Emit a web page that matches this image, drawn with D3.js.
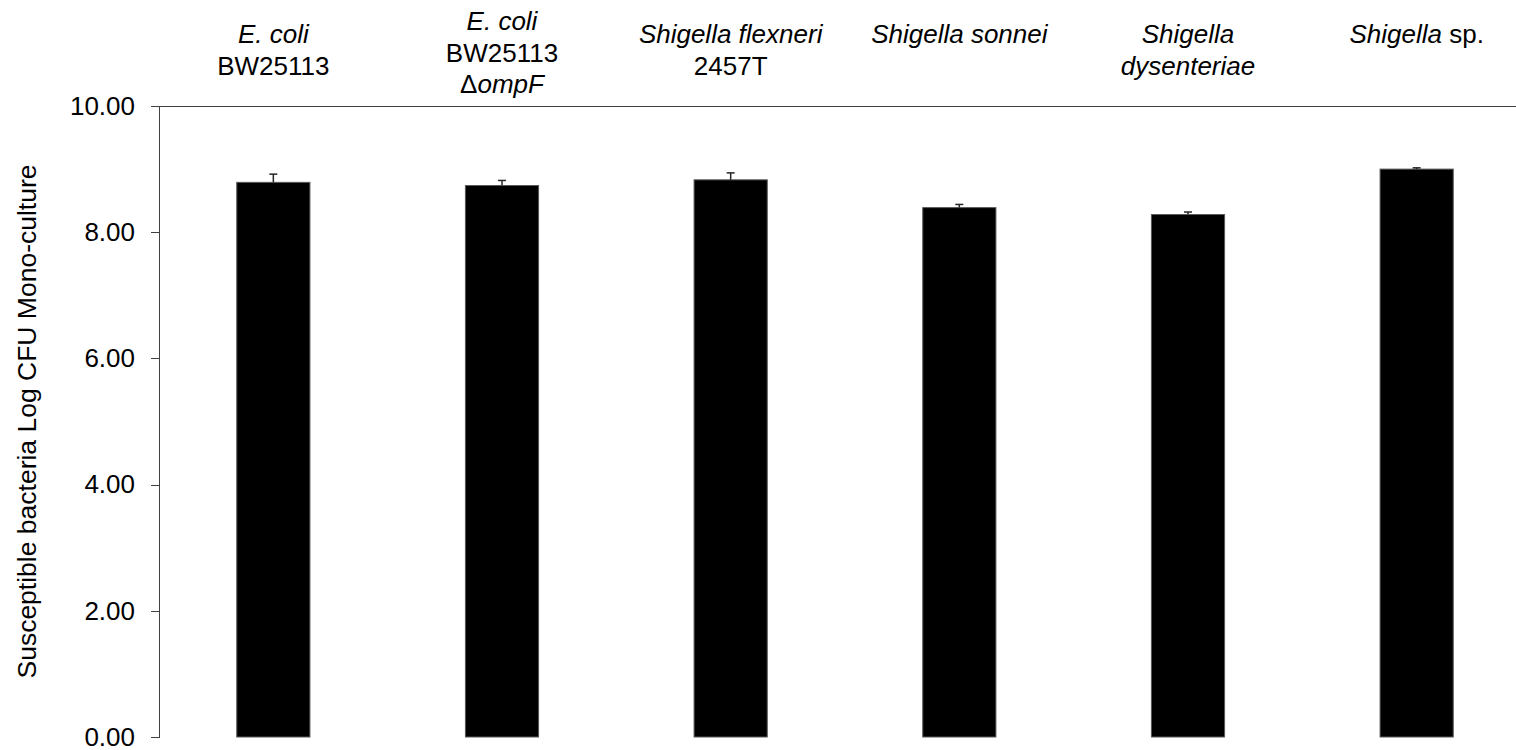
<!DOCTYPE html>
<html>
<head>
<meta charset="utf-8">
<script src="https://cdn.jsdelivr.net/npm/d3@7"></script>
<style>
  html, body { margin: 0; padding: 0; background: #fff; }
  svg { display: block; font-family: "Liberation Sans", Arial, sans-serif; }
</style>
</head>
<body>
<svg id="chart" width="1516" height="750"></svg>
<script>
// Strain names: each line is a list of [text, italic] runs
const strainLabels = [
  [[["E. coli", true]], [["BW25113", false]]],
  [[["E. coli", true]], [["BW25113", false]], [["Δ", false], ["ompF", true]]],
  [[["Shigella flexneri", true]], [["2457T", false]]],
  [[["Shigella sonnei", true]]],
  [[["Shigella", true]], [["dysenteriae", true]]],
  [[["Shigella", true], [" sp.", false]]]
];
const strainIds = ["ecoli", "ecoliOmpF", "flexneri", "sonnei", "dysenteriae", "sp"];
const logCfu = [8.79, 8.74, 8.83, 8.39, 8.28, 9.00];
const logCfuErr = [0.13, 0.08, 0.11, 0.05, 0.04, 0.02];
const yTicks = [0, 2, 4, 6, 8, 10];
const yTitle = "Susceptible bacteria Log CFU Mono-culture";

const svg = d3.select("#chart");
const margin = { left: 159, top: 106, bottom: 737 };
const plotRight = 1531;
const fontSize = "26px";

const x = d3.scaleBand()
  .domain(strainIds)
  .range([margin.left, plotRight])
  .paddingInner(0.68)
  .paddingOuter(0.34);

const y = d3.scaleLinear().domain([0, 10]).range([margin.bottom, margin.top]);

const axisColor = "#404040";

// value axis
const yAxis = d3.axisLeft(y)
  .tickValues(yTicks)
  .tickFormat(d3.format(".2f"))
  .tickSize(8)
  .tickSizeOuter(0)
  .tickPadding(16);

const gy = svg.append("g")
  .attr("transform", `translate(${margin.left},0)`)
  .call(yAxis);
gy.select(".domain").attr("stroke", axisColor).attr("shape-rendering", "crispEdges");
gy.selectAll(".tick line").attr("stroke", axisColor).attr("shape-rendering", "crispEdges");
gy.selectAll(".tick text")
  .attr("fill", "#000")
  .style("font-size", fontSize)
  .style("font-family", "'Liberation Sans', Arial, sans-serif");

// category axis line along the top
svg.append("line")
  .attr("x1", margin.left - 8).attr("x2", plotRight)
  .attr("y1", y(10)).attr("y2", y(10))
  .attr("stroke", axisColor)
  .attr("shape-rendering", "crispEdges");

// bars
svg.append("g").selectAll("rect")
  .data(strainIds)
  .join("rect")
  .attr("x", d => x(d))
  .attr("width", x.bandwidth())
  .attr("y", (d, i) => y(logCfu[i]))
  .attr("height", (d, i) => y(0) - y(logCfu[i]))
  .attr("fill", "#000")
  .attr("stroke", "#595959")
  .attr("stroke-width", 1);

// upper error bars
const errG = svg.append("g").attr("stroke", "#262626").attr("stroke-width", 1.5);
strainIds.forEach((d, i) => {
  const cx = x(d) + x.bandwidth() / 2;
  const top = y(logCfu[i] + logCfuErr[i]);
  errG.append("line")
    .attr("x1", cx).attr("x2", cx)
    .attr("y1", y(logCfu[i])).attr("y2", top);
  errG.append("line")
    .attr("x1", cx - 4).attr("x2", cx + 4)
    .attr("y1", top).attr("y2", top);
});

// strain names above the plot
const lineHeight = 31.5;
strainIds.forEach((d, i) => {
  const lines = strainLabels[i];
  const firstBaseline = lines.length > 2 ? 30 : 43;
  const t = svg.append("text")
    .attr("x", x(d) + x.bandwidth() / 2)
    .attr("text-anchor", "middle")
    .style("font-size", fontSize)
    .attr("fill", "#000");
  lines.forEach((runs, li) => {
    runs.forEach((run, ri) => {
      const ts = t.append("tspan")
        .text(run[0])
        .style("font-style", run[1] ? "italic" : "normal");
      if (ri === 0) {
        ts.attr("x", x(d) + x.bandwidth() / 2)
          .attr("y", firstBaseline + li * lineHeight);
      }
    });
  });
});

// value axis title
svg.append("text")
  .attr("transform", `translate(36,${(y(0) + y(10)) / 2}) rotate(-90)`)
  .attr("text-anchor", "middle")
  .style("font-size", "26.5px")
  .attr("fill", "#000")
  .text(yTitle);
</script>
</body>
</html>
